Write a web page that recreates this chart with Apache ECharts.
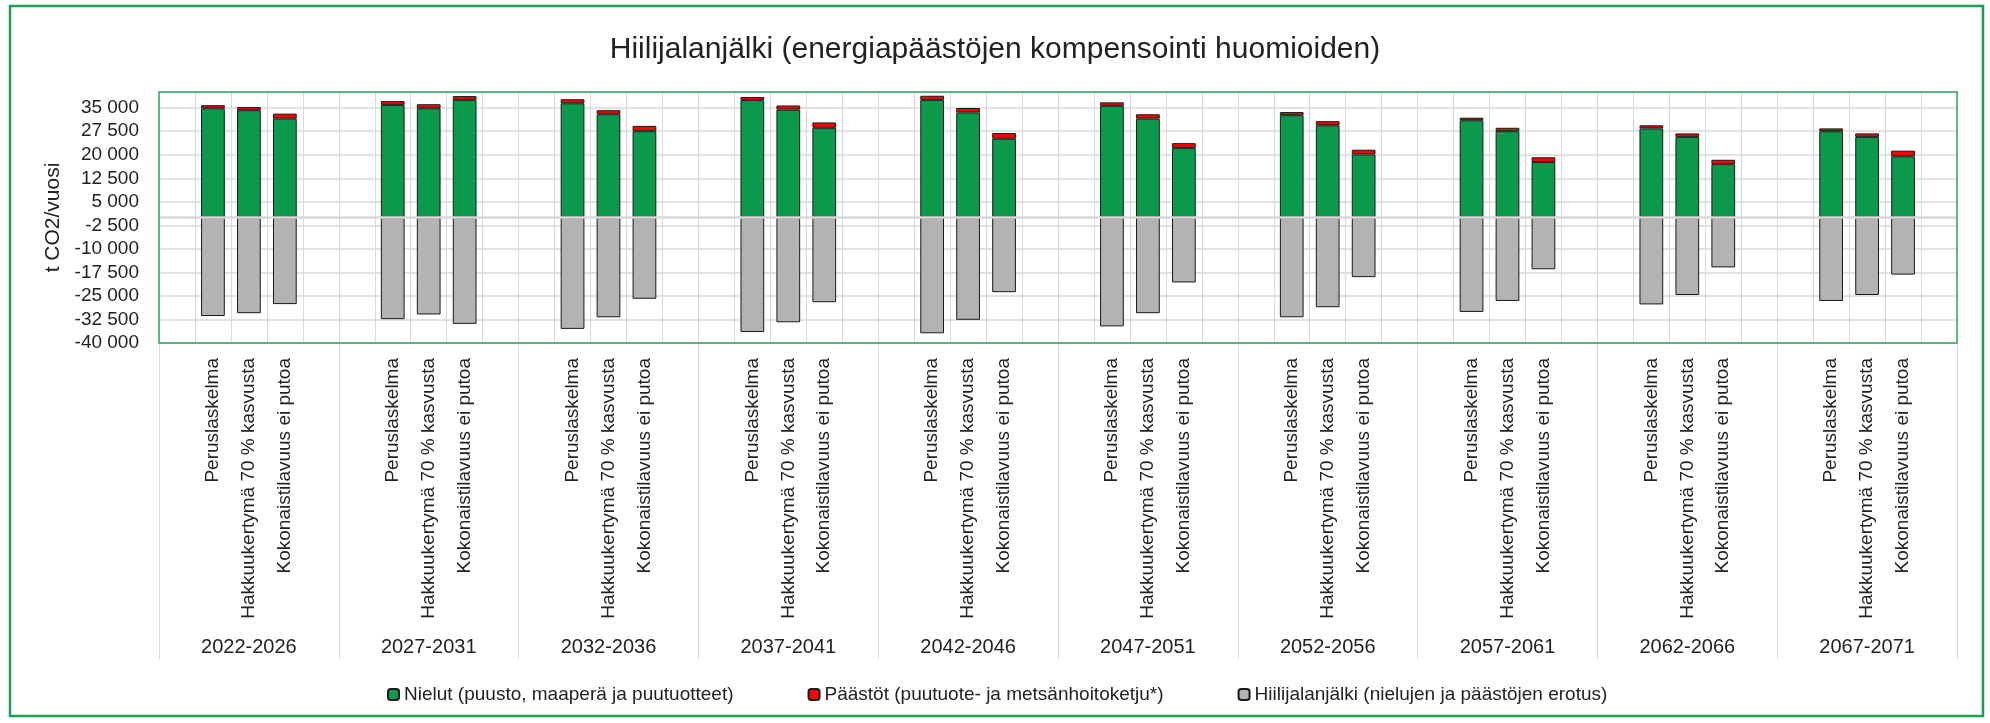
<!DOCTYPE html>
<html>
<head>
<meta charset="utf-8">
<title>Hiilijalanjälki</title>
<script src="https://cdn.jsdelivr.net/npm/echarts@6/dist/echarts.min.js"></script>
<style>
  html, body { margin: 0; padding: 0; background: #fff; }
  #chart { width: 1990px; height: 723px; }
</style>
</head>
<body>
<div id="chart"></div>
<script>
// jaksot ja laskelmat
var jaksot = ['2022-2026', '2027-2031', '2032-2036', '2037-2041', '2042-2046',
              '2047-2051', '2052-2056', '2057-2061', '2062-2066', '2067-2071'];
var laskelmat = ['Peruslaskelma', 'Hakkuukertymä 70 % kasvusta', 'Kokonaistilavuus ei putoa'];

// t CO2/vuosi, jokaiselle jaksolle [Peruslaskelma, Hakkuukertymä 70 %, Kokonaistilavuus]
var nielut = [
  [34800, 34200, 31500], [35900, 34800, 37500], [36400, 32900, 27500], [37400, 34400, 28600],
  [37500, 33500, 25100], [35600, 31500, 22200], [32600, 29400, 20100], [31000, 27500, 17700],
  [28400, 25700, 17000], [27500, 25700, 19500]
];
var paastot = [
  [1000, 1000, 1600], [1200, 1300, 1200], [1300, 1300, 1700], [1000, 1300, 1700],
  [1300, 1400, 1800], [1100, 1400, 1500], [1000, 1300, 1500], [800, 1100, 1500],
  [1000, 1100, 1400], [900, 1100, 1800]
];
var hiilijalanjalki = [
  [-31400, -30500, -27600], [-32400, -30900, -33900], [-35500, -31800, -25900], [-36500, -33400, -27000],
  [-36900, -32600, -23800], [-34700, -30500, -20700], [-31800, -28600, -19000], [-30100, -26600, -16500],
  [-27700, -24700, -15900], [-26600, -24700, -18200]
];

var nimet = ['Nielut (puusto, maaperä ja puutuotteet)',
             'Päästöt (puutuote- ja metsänhoitoketju*)',
             'Hiilijalanjälki (nielujen ja päästöjen erotus)'];

// joka jaksossa tyhjä paikka, kolme pylvästä, tyhjä paikka
var kategoriat = [];
function levita(taulu) {
  var out = [];
  for (var i = 0; i < taulu.length; i++) {
    out.push(null);
    for (var j = 0; j < 3; j++) out.push(taulu[i][j]);
    out.push(null);
  }
  return out;
}
for (var i = 0; i < jaksot.length; i++) {
  kategoriat.push('');
  for (var j = 0; j < 3; j++) kategoriat.push(laskelmat[j]);
  kategoriat.push('');
}

var fontti = "'Liberation Sans', Arial, sans-serif";
var teksti = '#222';

function muotoile(v) {
  if (v === 40000) return '';
  var s = Math.abs(v).toString().replace(/\B(?=(\d{3})+(?!\d))/g, ' ');
  return (v < 0 ? '-' : '') + s;
}

var myChart = echarts.init(document.getElementById('chart'));

var option = {
  animation: false,
  backgroundColor: '#fff',
  title: {
    text: 'Hiilijalanjälki (energiapäästöjen kompensointi huomioiden)',
    left: 'center',
    top: 30,
    textStyle: { fontFamily: fontti, fontSize: 30, fontWeight: 'normal', color: teksti }
  },
  legend: {
    data: nimet,
    left: 382,
    top: 680,
    itemWidth: 11,
    itemHeight: 11,
    itemGap: 74,
    textStyle: { fontFamily: fontti, fontSize: 19, color: teksti }
  },
  grid: { left: 159, right: 33, top: 92, bottom: 380, containLabel: false },
  xAxis: [
    {
      type: 'category',
      data: kategoriat,
      position: 'bottom',
      axisLine: { show: false, onZero: false },
      axisTick: { show: false },
      splitLine: { show: true, interval: 0, lineStyle: { color: '#d9d9d9', width: 1 } },
      axisLabel: {
        interval: 0, rotate: 90, margin: 15,
        fontFamily: fontti, fontSize: 19, color: teksti
      }
    },
    {
      type: 'category',
      data: jaksot,
      position: 'bottom',
      axisLine: { show: false, onZero: false },
      axisTick: { show: true, interval: 0, length: 316, lineStyle: { color: '#d9d9d9', width: 1 } },
      splitLine: { show: false },
      axisLabel: {
        interval: 0, margin: 294,
        fontFamily: fontti, fontSize: 20, color: teksti
      }
    }
  ],
  yAxis: {
    type: 'value',
    min: -40000,
    max: 40000,
    interval: 7500,
    name: 't CO2/vuosi',
    nameLocation: 'middle',
    nameGap: 92,
    nameTextStyle: { fontFamily: fontti, fontSize: 21, color: teksti },
    axisLine: { show: false },
    axisTick: { show: false },
    splitLine: { lineStyle: { color: '#d9d9d9', width: 1.5 } },
    axisLabel: {
      margin: 20, fontFamily: fontti, fontSize: 19, color: teksti,
      formatter: muotoile
    }
  },
  series: [
    {
      name: nimet[0],
      type: 'bar',
      stack: 'a',
      barCategoryGap: '34%',
      data: levita(nielut),
      itemStyle: { color: '#0b9a4b', borderColor: '#1a1a1a', borderWidth: 1 }
    },
    {
      name: nimet[1],
      type: 'bar',
      stack: 'a',
      data: levita(paastot),
      itemStyle: { color: '#ff0000', borderColor: '#1a1a1a', borderWidth: 1 }
    },
    {
      name: nimet[2],
      type: 'bar',
      stack: 'a',
      data: levita(hiilijalanjalki),
      itemStyle: { color: '#b3b3b3', borderColor: '#1a1a1a', borderWidth: 1 },
      markLine: {
        silent: true,
        symbol: 'none',
        label: { show: false },
        lineStyle: { color: '#d9d9d9', width: 2.5, type: 'solid' },
        data: [{ yAxis: 0 }]
      }
    }
  ],
  graphic: [
    {
      type: 'rect', z: 100, silent: true,
      shape: { x: 159, y: 92, width: 1798, height: 251 },
      style: { fill: 'none', stroke: '#2aa862', lineWidth: 1.5 }
    },
    {
      type: 'rect', z: 100, silent: true,
      shape: { x: 10, y: 6, width: 1973, height: 710 },
      style: { fill: 'none', stroke: '#1e9e50', lineWidth: 2.5 }
    }
  ]
};

myChart.setOption(option);
</script>
</body>
</html>
